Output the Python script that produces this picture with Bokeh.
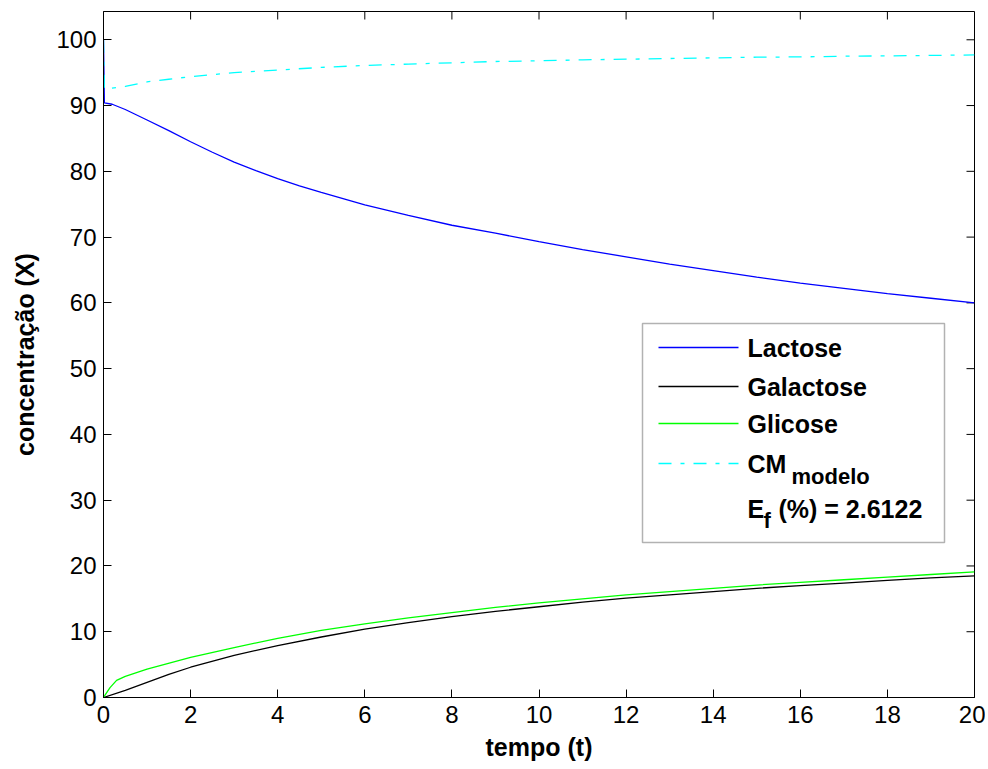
import math
from bokeh.plotting import figure
from bokeh.models import Range1d, FixedTicker, BoxAnnotation, Label, ColumnDataSource
from bokeh.embed import file_html
from bokeh.resources import INLINE

# ---- data ----
t_lac = [0, 0.02, 0.2, 0.5, 1, 1.5, 2, 2.5, 3, 3.5, 4, 4.5, 5, 6, 7, 8, 9, 10,
         11, 12, 13, 14, 15, 16, 17, 18, 19, 20]
lactose = [100, 90.4, 90.2, 89.4, 87.8, 86.2, 84.5, 82.9, 81.4, 80.1, 78.9, 77.8,
           76.8, 74.9, 73.3, 71.8, 70.6, 69.3, 68.1, 67.0, 65.9, 64.9, 63.9,
           63.0, 62.2, 61.4, 60.7, 60.0]

t_gal = [0, 0.5, 1, 1.5, 2, 3, 4, 5, 6, 7, 8, 9, 10, 11, 12, 13, 14, 15, 16,
         17, 18, 19, 20]
galactose = [0, 1.1, 2.3, 3.5, 4.6, 6.4, 7.9, 9.2, 10.4, 11.4, 12.3, 13.1, 13.8,
             14.5, 15.1, 15.6, 16.1, 16.6, 17.0, 17.4, 17.8, 18.2, 18.5]

t_gli = [0, 0.15, 0.3, 0.5, 1, 2, 3, 4, 5, 6, 7, 8, 9, 10, 11, 12, 13, 14, 15,
         16, 17, 18, 19, 20]
glicose = [0, 1.5, 2.6, 3.2, 4.3, 6.1, 7.6, 9.0, 10.2, 11.2, 12.1, 12.9, 13.7,
           14.4, 15.0, 15.6, 16.1, 16.6, 17.1, 17.5, 17.9, 18.3, 18.7, 19.1]

t_cm = [0, 0.02, 0.5, 1, 1.5, 2, 3, 4, 5, 6, 7, 8, 9, 10, 11, 12, 13, 14, 15,
        16, 17, 18, 19, 20]
cm_modelo = [100, 92.5, 92.9, 93.6, 94.0, 94.4, 95.0, 95.4, 95.8, 96.1, 96.3,
             96.5, 96.7, 96.8, 96.95, 97.05, 97.15, 97.25, 97.35, 97.4, 97.5,
             97.55, 97.62, 97.7]

legend_labels = ["Lactose", "Galactose", "Glicose", "CM"]
legend_sub = "modelo"
ef_value = "2.6122"

x_ticks = list(range(0, 21, 2))
y_ticks = list(range(0, 101, 10))

# ---- figure ----
XMAX, YMAX = 20, 104.3
W, H = 985, 766
F_L, F_R, F_T, F_B = 103.0, 974.0, 11.0, 697.0
p = figure(width=W, height=H, output_backend="svg", toolbar_location=None,
           x_range=Range1d(0, XMAX), y_range=Range1d(0, YMAX),
           min_border_left=int(F_L), min_border_right=int(W - F_R),
           min_border_top=int(F_T), min_border_bottom=int(H - F_B))
p.grid.visible = False
p.outline_line_color = "black"
p.outline_line_width = 1
p.background_fill_color = "white"
p.border_fill_color = "white"

FONT = "Liberation Sans"
TICK = 8
for ax in (p.xaxis[0], p.yaxis[0]):
    ax.major_tick_in = TICK
    ax.major_tick_out = 0
    ax.minor_tick_line_color = None
    ax.axis_line_color = "black"
    ax.major_tick_line_color = "black"
    ax.major_label_text_font = FONT
    ax.major_label_text_font_size = "24px"
    ax.major_label_text_color = "black"
    ax.axis_label_text_font = FONT
    ax.axis_label_text_font_size = "25px"
    ax.axis_label_text_font_style = "bold"
    ax.axis_label_text_color = "black"

p.xaxis.ticker = FixedTicker(ticks=x_ticks)
p.yaxis.ticker = FixedTicker(ticks=y_ticks)
p.xaxis.axis_label = "tempo (t)"
p.yaxis.axis_label = "concentração (X)"
p.xaxis.major_label_standoff = 8
p.yaxis.major_label_standoff = 7
p.xaxis.axis_label_standoff = 7
p.yaxis.axis_label_standoff = 14

# top and right inward ticks (MATLAB box style)
p.ray(x=x_ticks, y=[YMAX] * len(x_ticks), length=TICK, length_units="screen",
      angle=-math.pi / 2, line_color="black", line_width=1)
p.ray(x=[XMAX] * len(y_ticks), y=y_ticks, length=TICK, length_units="screen",
      angle=math.pi, line_color="black", line_width=1)

# ---- data lines ----
LW = 1.3
p.line(t_lac, lactose, line_color="#0000FF", line_width=LW)
p.line(t_gal, galactose, line_color="black", line_width=LW)
p.line(t_gli, glicose, line_color="#00FF00", line_width=LW)
DASH = "13 9 4 9"
p.line(t_cm, cm_modelo, line_color="#00FFFF", line_width=LW, line_dash=DASH)

# ---- manual legend (positions given in reference pixel coords) ----
def dx(px):
    return (px - F_L) / (F_R - F_L) * XMAX
def dy(py):
    return (F_B - py) / (F_B - F_T) * YMAX

p.add_layout(BoxAnnotation(left=dx(642), right=dx(944), top=dy(323), bottom=dy(542),
                           fill_color="white", fill_alpha=1.0, line_color="black",
                           line_width=1.5))

colors = ["#0000FF", "black", "#00FF00", "#00FFFF"]
dashes = ["solid", "solid", "solid", DASH]
rows = [347, 386, 423, 463]
LEG = "25px"
SUB = "22px"
for lab, c, d, r in zip(legend_labels, colors, dashes, rows):
    src = ColumnDataSource(dict(x0=[dx(658)], x1=[dx(738)], y=[dy(r)]))
    p.segment(x0="x0", y0="y", x1="x1", y1="y", source=src, line_color=c,
              line_width=LW, line_dash=d, level="overlay")
    p.add_layout(Label(x=dx(747), y=dy(r), text=lab, text_font=FONT,
                       text_font_size=LEG, text_font_style="bold",
                       text_baseline="middle", text_align="left",
                       text_color="black"))

p.add_layout(Label(x=dx(791), y=dy(476), text=legend_sub, text_font=FONT,
                   text_font_size=SUB, text_font_style="bold",
                   text_baseline="middle", text_align="left", text_color="black"))
p.add_layout(Label(x=dx(747), y=dy(508), text="E", text_font=FONT,
                   text_font_size=LEG, text_font_style="bold",
                   text_baseline="middle", text_align="left", text_color="black"))
p.add_layout(Label(x=dx(763), y=dy(520), text="f", text_font=FONT,
                   text_font_size=SUB, text_font_style="bold",
                   text_baseline="middle", text_align="left", text_color="black"))
p.add_layout(Label(x=dx(778), y=dy(508), text="(%) = " + ef_value, text_font=FONT,
                   text_font_size=LEG, text_font_style="bold",
                   text_baseline="middle", text_align="left", text_color="black"))

open("out.html", "w").write(file_html(p, INLINE))
